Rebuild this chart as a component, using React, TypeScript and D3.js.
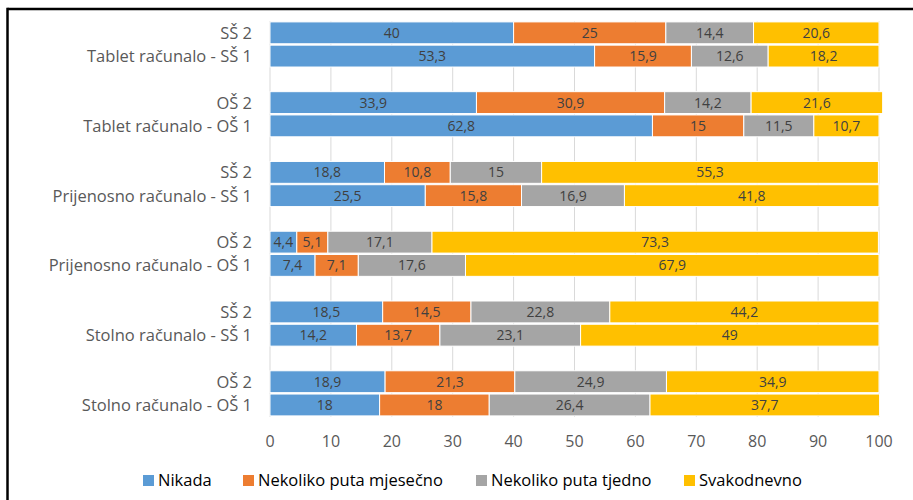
import React from "react";
import * as d3 from "d3";

const categories = [
  "SŠ 2",
  "Tablet računalo - SŠ 1",
  "OŠ 2",
  "Tablet računalo - OŠ 1",
  "SŠ 2",
  "Prijenosno računalo - SŠ 1",
  "OŠ 2",
  "Prijenosno računalo - OŠ 1",
  "SŠ 2",
  "Stolno računalo - SŠ 1",
  "OŠ 2",
  "Stolno računalo - OŠ 1",
];
const seriesNames = ["Nikada", "Nekoliko puta mjesečno", "Nekoliko puta tjedno", "Svakodnevno"];
const nikada = [40, 53.3, 33.9, 62.8, 18.8, 25.5, 4.4, 7.4, 18.5, 14.2, 18.9, 18];
const mjesecno = [25, 15.9, 30.9, 15, 10.8, 15.8, 5.1, 7.1, 14.5, 13.7, 21.3, 18];
const tjedno = [14.4, 12.6, 14.2, 11.5, 15, 16.9, 17.1, 17.6, 22.8, 23.1, 24.9, 26.4];
const svakodnevno = [20.6, 18.2, 21.6, 10.7, 55.3, 41.8, 73.3, 67.9, 44.2, 49, 34.9, 37.7];
const xTicks = [0, 10, 20, 30, 40, 50, 60, 70, 80, 90, 100];
const colors = ["#5B9BD5", "#ED7D31", "#A5A5A5", "#FFC000"];

const fmt = (v: number) => String(v).replace(".", ",");

export default function App() {
  const W = 913, H = 500;
  const x = d3.scaleLinear().domain([0, 100]).range([270, 879]);
  const nSlots = categories.length + categories.length / 2 - 1;
  const y = d3
    .scaleBand<number>()
    .domain(d3.range(nSlots))
    .range([21.2, 416.6])
    .paddingInner(0.06)
    .paddingOuter(0.03);
  const slotOf = (i: number) => i + Math.floor(i / 2);
  const series = [nikada, mjesecno, tjedno, svakodnevno];
  const font = "'Open Sans', Lato, sans-serif";

  const rows = categories.map((c, i) => {
    let acc = 0;
    const segs = series.map((s, k) => {
      const v = s[i];
      const seg = { k, x0: acc, x1: acc + v, v };
      acc += v;
      return seg;
    });
    return { c, i, segs };
  });

  const legendX = [143, 243, 476, 684];

  return (
    <svg
      width={W}
      height={H}
      style={{ position: "fixed", left: 0, top: 0, background: "#fff" }}
      fontFamily={font}
    >
      <rect x={0} y={0} width={W} height={H} fill="#fff" />
      {/* frame */}
      <line x1={7.5} x2={W} y1={9} y2={9} stroke="#000" strokeWidth={2.5} />
      <line x1={7.5} x2={7.5} y1={7.75} y2={H} stroke="#000" strokeWidth={2.5} />
      {/* gridlines */}
      {xTicks.map((t) => (
        <line
          key={t}
          x1={x(t)}
          x2={x(t)}
          y1={21}
          y2={417}
          stroke="#d9d9d9"
          strokeWidth={1}
        />
      ))}
      {/* bars */}
      {rows.map((r) => {
        const yy = y(slotOf(r.i))!;
        const bh = y.bandwidth();
        return (
          <g key={r.i}>
            {r.segs.map((s) => (
              <g key={s.k}>
                <rect
                  x={x(s.x0)}
                  y={yy}
                  width={x(s.x1) - x(s.x0)}
                  height={bh}
                  fill={colors[s.k]}
                  stroke="#fff"
                  strokeWidth={1}
                />
                <text
                  x={(x(s.x0) + x(s.x1)) / 2}
                  y={yy + bh / 2}
                  dy="0.36em"
                  textAnchor="middle"
                  fontSize={14}
                  fill="#404040"
                >
                  {fmt(s.v)}
                </text>
              </g>
            ))}
            <text
              x={252}
              y={yy + bh / 2}
              dy="0.36em"
              textAnchor="end"
              fontSize={16.5}
              fill="#595959"
            >
              {r.c}
            </text>
          </g>
        );
      })}
      {/* x tick labels */}
      {xTicks.map((t) => (
        <text
          key={t}
          x={x(t)}
          y={441}
          dy="0.36em"
          textAnchor="middle"
          fontSize={16}
          fill="#595959"
        >
          {t}
        </text>
      ))}
      {/* legend */}
      {seriesNames.map((n, k) => (
        <g key={n}>
          <rect x={legendX[k]} y={475} width={11} height={11} fill={colors[k]} />
          <text x={legendX[k] + 15} y={480.5} dy="0.36em" fontSize={16.5} fill="#000">
            {n}
          </text>
        </g>
      ))}
    </svg>
  );
}
